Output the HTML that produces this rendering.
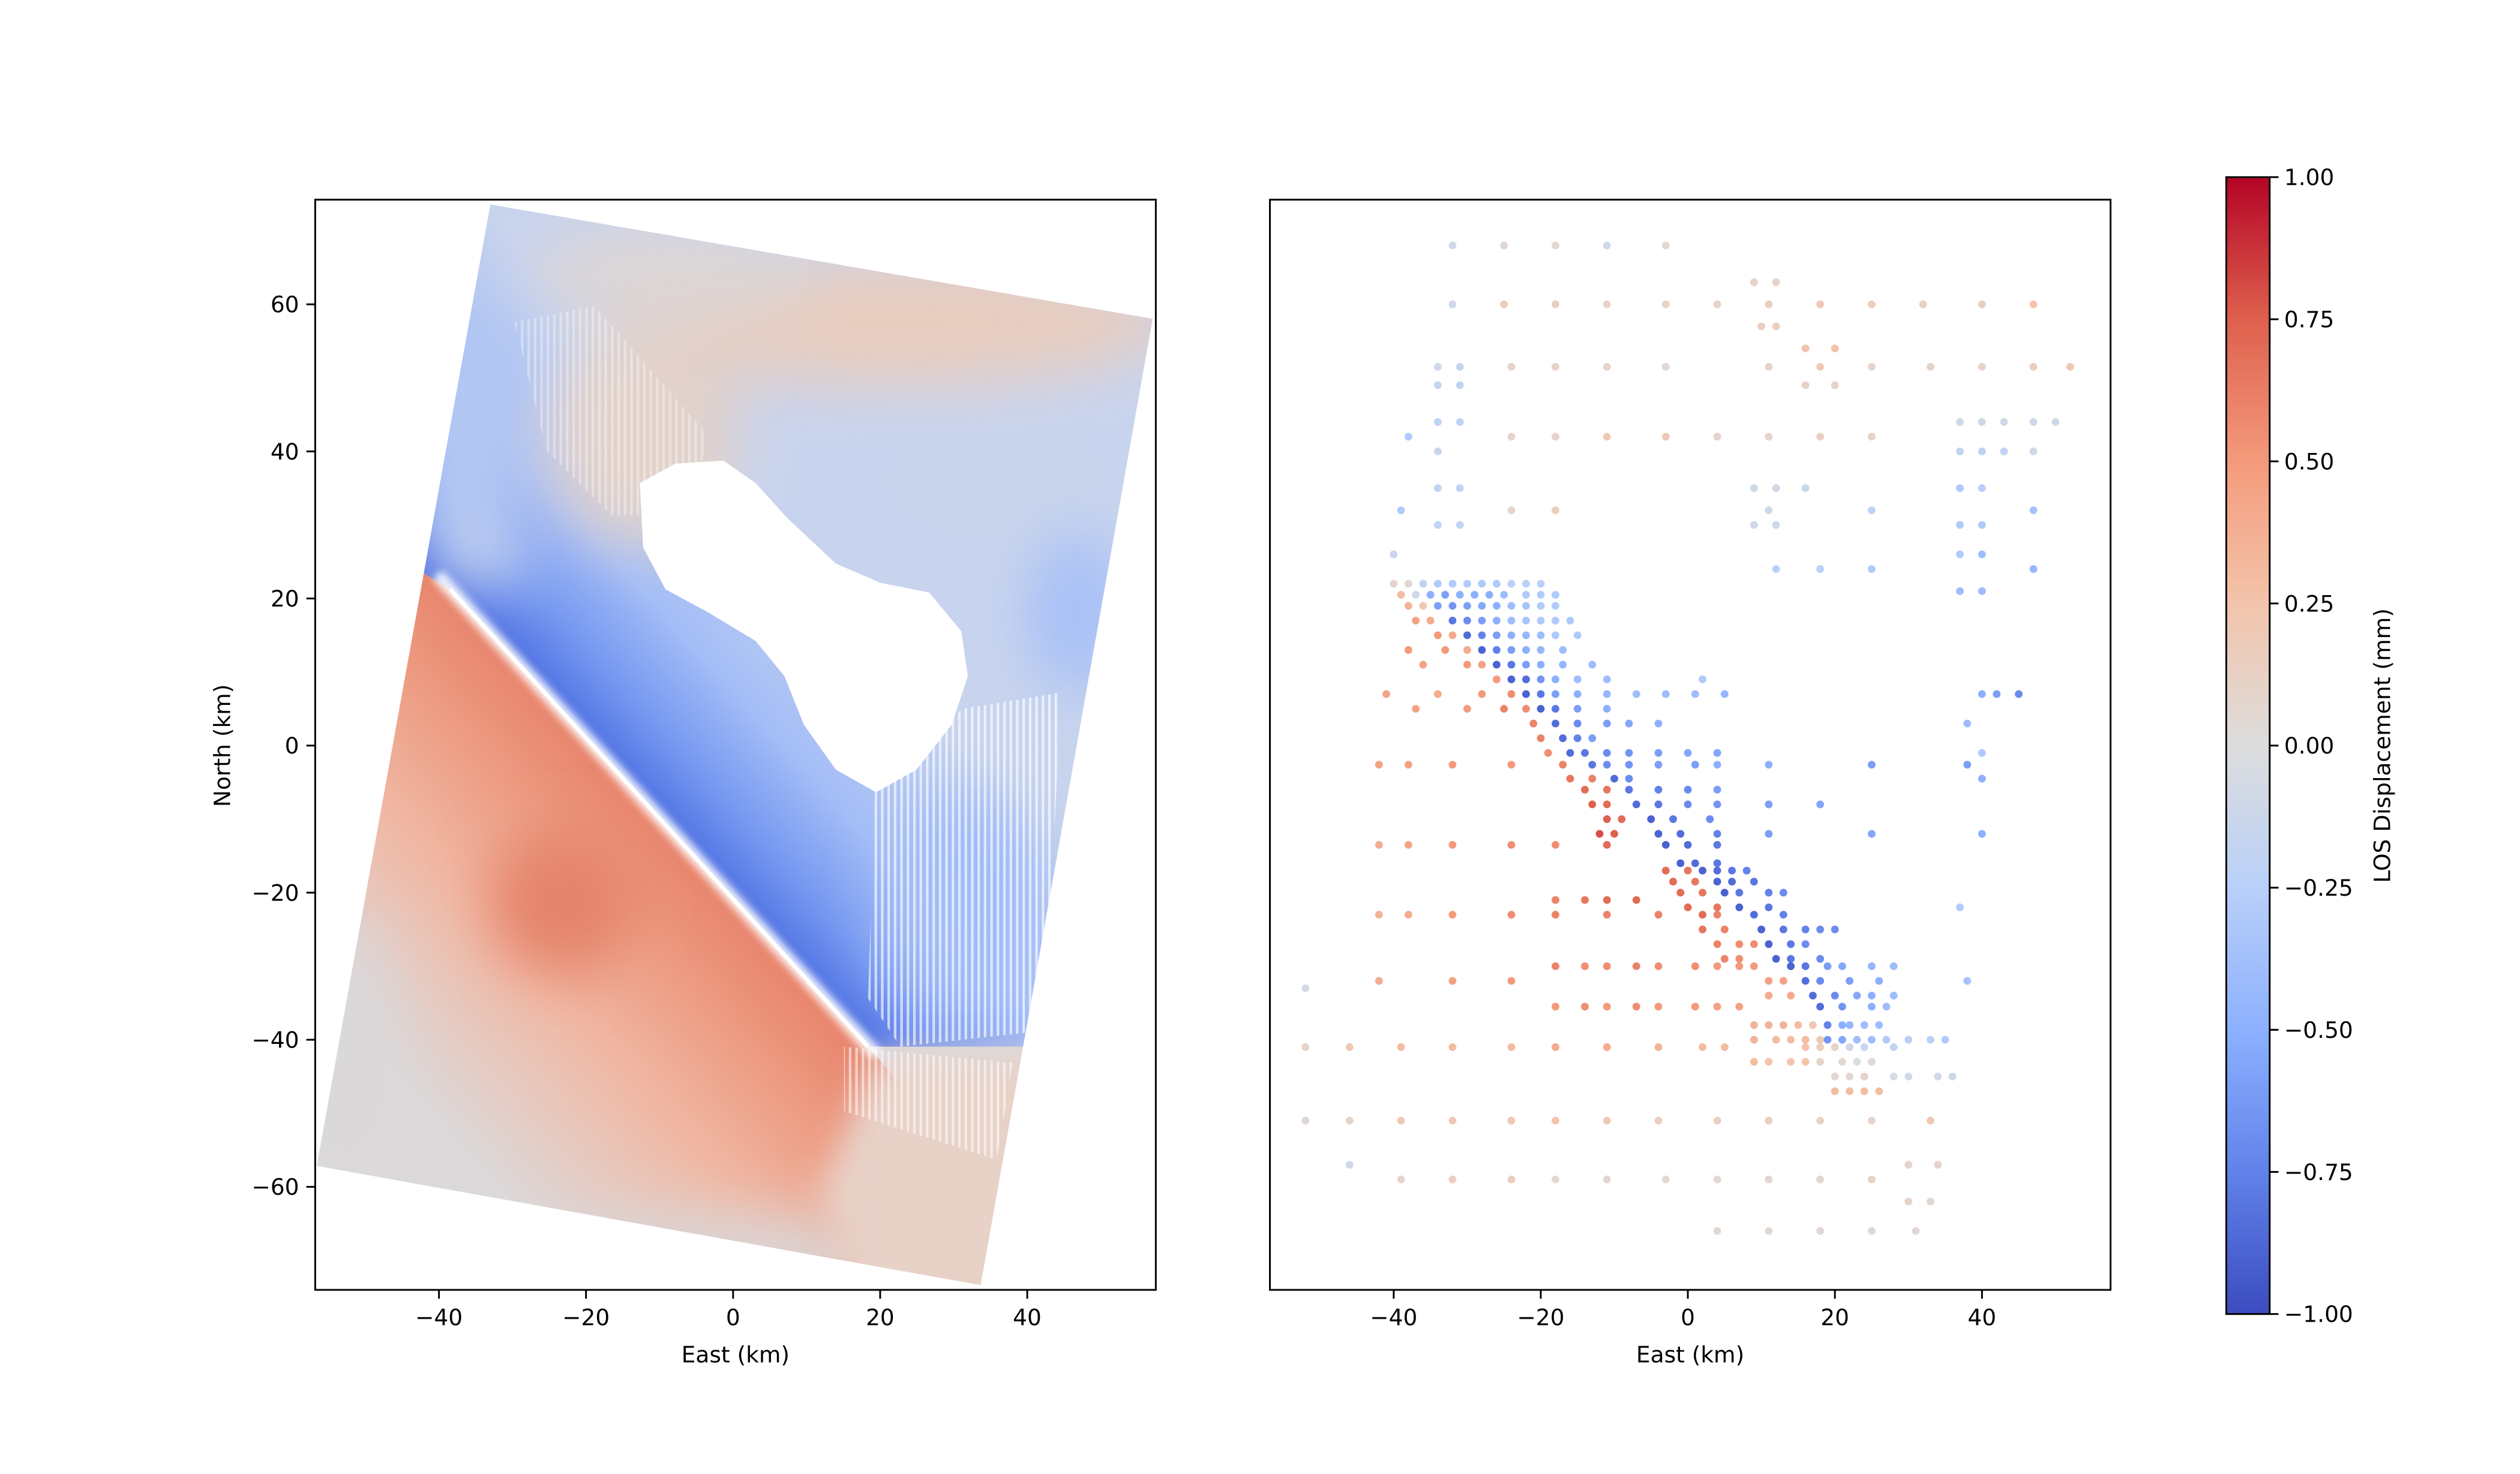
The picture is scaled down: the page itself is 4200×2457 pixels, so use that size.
<!DOCTYPE html>
<html><head><meta charset="utf-8">
<style>
html,body{margin:0;padding:0;background:#fff;}
svg{display:block;}
text{font-family:"DejaVu Sans","Liberation Sans",sans-serif;fill:#000;}
</style></head>
<body>
<svg id="fig" width="4200" height="2457" viewBox="0 0 1560 912.6" xmlns="http://www.w3.org/2000/svg">
<defs>
  <clipPath id="foot"><polygon points="305,127 717,198 610,798 197,724"/></clipPath>
  <clipPath id="sw"><polygon points="150,300 262,355 283,368 540,650 600,720 560,860 150,860"/></clipPath>
  <clipPath id="ne"><polygon points="262,355 283,368 540,650 760,650 760,100 150,100 150,300"/></clipPath>
  <linearGradient id="gRed" gradientUnits="userSpaceOnUse" x1="410" y1="508" x2="240" y2="662">
    <stop offset="0" stop-color="#e8836b"/><stop offset="0.25" stop-color="#ed9c83"/><stop offset="0.55" stop-color="#f0b9a5"/><stop offset="1" stop-color="#dcd9da"/>
  </linearGradient>
  <linearGradient id="gBlue" gradientUnits="userSpaceOnUse" x1="410" y1="508" x2="540" y2="390">
    <stop offset="0" stop-color="#4e70e2"/><stop offset="0.2" stop-color="#7496f0"/><stop offset="0.5" stop-color="#a3bdf7"/><stop offset="1" stop-color="#c8d4ee"/>
  </linearGradient>
  <linearGradient id="cmap" x1="0" y1="1" x2="0" y2="0">
    <stop offset="0" stop-color="rgb(59,76,192)"/><stop offset="0.125" stop-color="rgb(98,130,234)"/>
    <stop offset="0.25" stop-color="rgb(141,176,254)"/><stop offset="0.375" stop-color="rgb(185,208,249)"/>
    <stop offset="0.5" stop-color="rgb(221,221,221)"/><stop offset="0.625" stop-color="rgb(243,196,171)"/>
    <stop offset="0.75" stop-color="rgb(244,154,123)"/><stop offset="0.875" stop-color="rgb(222,96,77)"/>
    <stop offset="1" stop-color="rgb(180,4,38)"/>
  </linearGradient>
  <filter id="blur" x="-30%" y="-30%" width="160%" height="160%"><feGaussianBlur stdDeviation="18"/></filter>
  <filter id="blur2"><feGaussianBlur stdDeviation="2.5"/></filter>
  <filter id="blur3" x="-30%" y="-30%" width="160%" height="160%"><feGaussianBlur stdDeviation="10"/></filter>
  <pattern id="stripes" width="4" height="10" patternUnits="userSpaceOnUse"><rect x="0" y="0" width="1.6" height="10" fill="#fff"/></pattern>
</defs>
<g transform="matrix(0.995,0,0,0.997,0.1,0)">
<!-- Left panel image -->
<g clip-path="url(#foot)">
  <rect x="190" y="120" width="540" height="690" fill="#d8dae2"/>
  <g clip-path="url(#ne)">
    <rect x="150" y="100" width="620" height="760" fill="url(#gBlue)"/>
    <g filter="url(#blur)">
      <ellipse cx="560" cy="200" rx="170" ry="40" fill="#e8cdbf"/>
      <ellipse cx="420" cy="170" rx="90" ry="30" fill="#ddd6d6"/>
      <ellipse cx="400" cy="270" rx="60" ry="70" fill="#e2d2ca"/>
      <ellipse cx="290" cy="280" rx="35" ry="80" fill="#b4c8f3"/>
      <ellipse cx="300" cy="345" rx="30" ry="20" fill="#c4d2ef"/>
      <ellipse cx="620" cy="300" rx="80" ry="40" fill="#c8d4ec"/>
      <ellipse cx="670" cy="380" rx="30" ry="50" fill="#a6bff7"/>
      <ellipse cx="600" cy="560" rx="50" ry="70" fill="#a0bbf6"/>
    </g>
  </g>
  <g clip-path="url(#sw)">
    <rect x="150" y="300" width="620" height="560" fill="url(#gRed)"/>
    <g filter="url(#blur)">
      <ellipse cx="215" cy="650" rx="30" ry="80" fill="#dad8da"/>
      <ellipse cx="440" cy="780" rx="120" ry="25" fill="#d9d6d8"/>
      <ellipse cx="350" cy="560" rx="45" ry="45" fill="#e5836b"/>
    </g>
  </g>
  <polygon points="545,655 700,655 650,830 545,830 510,740" fill="#e8d2c8" filter="url(#blur3)"/>
  <line x1="272" y1="357" x2="545" y2="655" stroke="#fff" stroke-width="8" opacity="0.9" filter="url(#blur2)"/>
  <line x1="280" y1="366" x2="540" y2="650" stroke="#fff" stroke-width="2.5"/>
  <polygon fill="#fff" points="398,300 420,288 450,286 470,300 490,322 520,350 548,362 578,368 598,392 602,420 592,450 570,478 545,492 520,478 500,450 488,420 470,398 440,380 414,366 400,340"/>
  <polygon points="545,470 600,440 660,430 650,640 560,650 540,620" fill="url(#stripes)" opacity="0.65"/>
  <polygon points="525,650 630,660 620,720 525,690" fill="url(#stripes)" opacity="0.55"/>
  <polygon points="320,200 370,190 440,270 430,320 380,320 340,280" fill="url(#stripes)" opacity="0.35"/>
</g>
<rect x="196" y="124" width="523" height="677" fill="none" stroke="#000" stroke-width="1.1"/>
<g id="leftTicks"></g>
<text x="457.5" y="846" font-size="14" text-anchor="middle">East (km)</text>
<text x="143" y="463" font-size="14" text-anchor="middle" transform="rotate(-90 143 463)">North (km)</text>

<!-- Right panel -->
<g id="pts"></g>
<rect x="790" y="124" width="523" height="677" fill="none" stroke="#000" stroke-width="1.1"/>
<g id="rightTicks"></g>
<text x="1051.5" y="846" font-size="14" text-anchor="middle">East (km)</text>

<!-- Colorbar -->
<rect x="1385" y="110" width="27" height="706" fill="url(#cmap)" stroke="#000" stroke-width="1.1"/>
<g id="cbTicks"></g>
<text x="1487" y="463" font-size="14" text-anchor="middle" transform="rotate(-90 1487 463)">LOS Displacement (mm)</text>
</g>
</svg>
<script>
const xTicks = [-40, -20, 0, 20, 40];
const yTicks = [-60, -40, -20, 0, 20, 40, 60];
const cbTickVals = [-1.0, -0.75, -0.5, -0.25, 0.0, 0.25, 0.5, 0.75, 1.0];

// scatter data: east km, north km, LOS value
const ptX = [
-32,-25,-18,-11,-3,
-32,-25,-18,-11,-3,4,11,18,25,32,40,47,
9,12,10,12,
-34,-31,-24,-18,-11,-3,11,18,25,33,40,47,52,
16,20,-34,-31,16,20,
-34,-31,37,40,43,47,50,
-38,-24,-18,-11,-3,4,11,18,25,
-34,37,40,43,47,
-34,-31,9,12,16,37,40,
-39,-24,-18,11,25,47,
-34,-31,9,12,37,40,
-40,37,40,
12,18,25,47,
37,40,
-40,-38,-36,-34,-32,-30,-28,-26,-24,-22,-20,
-39,-37,-35,-33,-31,-29,-27,-25,-22,-20,-18,
-38,-36,-34,-32,-30,-28,-26,-24,-22,-20,-18,
-37,-35,-32,-30,-28,-26,-24,-22,-20,-18,-16,
-34,-32,-30,-28,-26,-24,-22,-20,-18,-15,
-38,-33,-30,-28,-26,-24,-22,-20,-17,
-36,-30,-28,-26,-24,-22,-20,-17,-13,
-26,-24,-22,-20,-18,-15,-11,2,
-41,-34,-28,-24,-22,-20,-18,-15,-11,-7,-3,1,5,40,42,45,
-37,-30,-25,-22,-20,-18,-15,-11,
-21,-18,-15,-11,-8,-4,38,
-20,-17,-15,-13,
-19,-16,-14,-11,-8,-4,0,4,40,
-42,-38,-32,-24,-17,-13,-11,-8,-4,1,4,11,25,38,
-16,-13,-10,-8,40,
-14,-11,-8,-4,0,4,
-13,-11,-7,-4,0,4,11,18,
-11,-9,-5,-2,3,
-12,-10,-4,-1,4,11,25,40,
-42,-38,-32,-24,-18,-11,-3,0,4,
-1,1,4,
-3,0,2,4,6,8,
-2,1,4,6,9,
-1,2,5,7,11,13,
-18,-14,-11,-7,
0,4,7,11,37,
-42,-38,-32,-24,-18,-11,-4,2,4,9,13,
2,5,10,13,16,18,20,
4,7,9,11,14,16,
5,7,12,14,18,
-18,-14,-11,-7,-4,1,4,7,9,14,16,19,21,25,28,
-42,-32,-24,11,13,16,18,22,26,38,
11,14,17,20,23,25,28,
-18,-14,-11,-7,-4,1,4,7,18,21,25,27,
9,11,13,15,17,19,21,22,24,26,
9,12,14,16,18,19,21,23,25,27,30,33,35,
-52,-46,-39,-32,-24,-18,-11,-4,2,5,16,18,20,22,24,28,
9,11,14,16,18,21,23,25,
20,22,24,28,30,34,36,
20,22,24,26,
-52,-46,-39,-32,-24,-18,-11,-4,4,11,18,25,33,
-46,30,34,
-39,-32,-24,-18,-11,-3,4,11,18,25,
30,33,
4,11,18,25,31,
-52
];
const ptY = [
68,68,68,68,68,
60,60,60,60,60,60,60,60,60,60,60,60,
63,63,57,57,
51.5,51.5,51.5,51.5,51.5,51.5,51.5,51.5,51.5,51.5,51.5,51.5,51.5,
54,54,49,49,49,49,
44,44,44,44,44,44,44,
42,42,42,42,42,42,42,42,42,
40,40,40,40,40,
35,35,35,35,35,35,35,
32,32,32,32,32,32,
30,30,30,30,30,30,
26,26,26,
24,24,24,24,
21,21,
22,22,22,22,22,22,22,22,22,22,22,
20.5,20.5,20.5,20.5,20.5,20.5,20.5,20.5,20.5,20.5,20.5,
19,19,19,19,19,19,19,19,19,19,19,
17,17,17,17,17,17,17,17,17,17,17,
15,15,15,15,15,15,15,15,15,15,
13,13,13,13,13,13,13,13,13,
11,11,11,11,11,11,11,11,11,
9,9,9,9,9,9,9,9,
7,7,7,7,7,7,7,7,7,7,7,7,7,7,7,7,
5,5,5,5,5,5,5,5,
3,3,3,3,3,3,3,
1,1,1,1,
-1,-1,-1,-1,-1,-1,-1,-1,-1,
-2.6,-2.6,-2.6,-2.6,-2.6,-2.6,-2.6,-2.6,-2.6,-2.6,-2.6,-2.6,-2.6,-2.6,
-4.5,-4.5,-4.5,-4.5,-4.5,
-6,-6,-6,-6,-6,-6,
-8,-8,-8,-8,-8,-8,-8,-8,
-10,-10,-10,-10,-10,
-12,-12,-12,-12,-12,-12,-12,-12,
-13.5,-13.5,-13.5,-13.5,-13.5,-13.5,-13.5,-13.5,-13.5,
-16,-16,-16,
-17,-17,-17,-17,-17,-17,
-18.5,-18.5,-18.5,-18.5,-18.5,
-20,-20,-20,-20,-20,-20,
-21,-21,-21,-21,
-22,-22,-22,-22,-22,
-23,-23,-23,-23,-23,-23,-23,-23,-23,-23,-23,
-25,-25,-25,-25,-25,-25,-25,
-27,-27,-27,-27,-27,-27,
-29,-29,-29,-29,-29,
-30,-30,-30,-30,-30,-30,-30,-30,-30,-30,-30,-30,-30,-30,-30,
-32,-32,-32,-32,-32,-32,-32,-32,-32,-32,
-34,-34,-34,-34,-34,-34,-34,
-35.5,-35.5,-35.5,-35.5,-35.5,-35.5,-35.5,-35.5,-35.5,-35.5,-35.5,-35.5,
-38,-38,-38,-38,-38,-38,-38,-38,-38,-38,
-40,-40,-40,-40,-40,-40,-40,-40,-40,-40,-40,-40,-40,
-41,-41,-41,-41,-41,-41,-41,-41,-41,-41,-41,-41,-41,-41,-41,-41,
-43,-43,-43,-43,-43,-43,-43,-43,
-45,-45,-45,-45,-45,-45,-45,
-47,-47,-47,-47,
-51,-51,-51,-51,-51,-51,-51,-51,-51,-51,-51,-51,-51,
-57,-57,-57,
-59,-59,-59,-59,-59,-59,-59,-59,-59,-59,
-62,-62,
-66,-66,-66,-66,-66,
-33
];
const ptV = [
-0.1,0.05,0.05,-0.1,0.05,
-0.1,0.15,0.15,0.1,0.1,0.1,0.15,0.2,0.15,0.15,0.15,0.25,
0.1,0.1,0.15,0.15,
-0.1,-0.15,0.1,0.1,0.1,0.05,0.1,0.2,0.1,0.1,0.1,0.15,0.2,
0.25,0.25,-0.15,-0.2,0.1,0.1,
-0.2,-0.2,-0.1,-0.1,-0.1,-0.1,-0.1,
-0.3,0.1,0.1,0.2,0.2,0.1,0.1,0.15,0.1,
-0.15,-0.2,-0.2,-0.2,-0.1,
-0.2,-0.2,-0.1,-0.1,-0.15,-0.3,-0.25,
-0.3,0.1,0.15,-0.1,-0.2,-0.35,
-0.2,-0.2,-0.1,-0.1,-0.3,-0.3,
-0.15,-0.3,-0.4,
-0.25,-0.25,-0.3,-0.45,
-0.4,-0.4,
0.1,0.05,-0.2,-0.3,-0.3,-0.3,-0.3,-0.3,-0.25,-0.25,-0.25,
0.3,-0.1,-0.5,-0.6,-0.5,-0.5,-0.5,-0.4,-0.3,-0.3,-0.3,
0.35,0.2,-0.6,-0.65,-0.6,-0.55,-0.5,-0.4,-0.35,-0.3,-0.3,
0.45,0.4,-0.8,-0.7,-0.6,-0.5,-0.4,-0.35,-0.3,-0.3,-0.3,
0.5,0.4,-0.85,-0.75,-0.6,-0.5,-0.45,-0.4,-0.3,-0.3,
0.5,0.5,0.4,-0.9,-0.75,-0.6,-0.5,-0.45,-0.4,
0.45,0.5,0.45,-0.9,-0.8,-0.6,-0.5,-0.45,-0.4,
0.5,-0.9,-0.85,-0.65,-0.5,-0.4,-0.4,-0.3,
0.45,0.4,0.5,0.55,-0.9,-0.8,-0.6,-0.5,-0.45,-0.4,-0.4,-0.4,-0.45,-0.5,-0.6,-0.7,
0.45,0.5,0.6,0.55,-0.9,-0.8,-0.6,-0.5,
0.6,-0.85,-0.7,-0.6,-0.55,-0.5,-0.4,
0.6,-0.85,-0.75,-0.6,
0.55,-0.85,-0.8,-0.7,-0.65,-0.6,-0.55,-0.55,-0.3,
0.45,0.45,0.5,0.5,0.6,-0.8,-0.7,-0.65,-0.6,-0.6,-0.5,-0.5,-0.6,-0.6,
0.65,0.6,-0.85,-0.7,-0.5,
0.7,0.65,-0.8,-0.75,-0.7,-0.6,
0.75,0.7,-0.85,-0.8,-0.7,-0.65,-0.6,-0.55,
0.75,0.7,-0.9,-0.8,-0.7,
0.8,0.75,-0.9,-0.85,-0.75,-0.6,-0.55,-0.5,
0.4,0.45,0.5,0.55,0.55,0.7,-0.9,-0.85,-0.8,
-0.9,-0.85,-0.8,
0.7,0.65,-0.9,-0.85,-0.8,-0.75,
0.7,0.65,-0.9,-0.85,-0.8,
0.7,0.65,-0.9,-0.8,-0.75,-0.7,
0.6,0.65,0.7,0.7,
0.7,0.65,-0.9,-0.8,-0.3,
0.35,0.4,0.5,0.55,0.6,0.6,0.6,0.7,0.6,-0.85,-0.75,
0.65,0.6,-0.9,-0.8,-0.75,-0.7,-0.7,
0.6,0.55,0.55,-0.9,-0.8,-0.7,
0.6,0.55,-0.9,-0.8,-0.7,
0.6,0.55,0.55,0.6,0.55,0.55,0.5,0.5,0.5,-0.9,-0.8,-0.6,-0.55,-0.45,-0.4,
0.4,0.45,0.5,0.45,0.45,-0.85,-0.7,-0.6,-0.5,-0.35,
0.4,0.4,-0.85,-0.7,-0.55,-0.5,-0.4,
0.5,0.55,0.5,0.55,0.5,0.5,0.45,0.45,-0.85,-0.65,-0.5,-0.4,
0.35,0.35,0.35,0.3,0.2,-0.75,-0.5,-0.45,-0.4,-0.4,
0.35,0.3,0.3,0.3,0.2,-0.65,-0.55,-0.4,-0.4,-0.3,-0.25,-0.25,-0.3,
0.1,0.2,0.3,0.3,0.3,0.4,0.4,0.35,0.3,0.3,0.25,0.15,0.1,-0.1,-0.15,-0.2,
0.3,0.25,0.25,0.25,0.1,0.05,0,0.05,
0.05,0.05,0.1,-0.05,-0.1,-0.1,-0.1,
0.3,0.3,0.3,0.3,
0.05,0.1,0.2,0.2,0.2,0.25,0.2,0.15,0.15,0.15,0.1,0.1,0.2,
-0.1,0.1,0.1,
0.1,0.15,0.15,0.05,0.05,0.05,0.05,0.05,0.05,0.1,
0.1,0.05,
0.05,0.05,0.05,0.05,0.05,
-0.05
];

const NS = 'http://www.w3.org/2000/svg';
const KM = 4.575, KMY = 4.567, Y0 = 463;
function xLeft(v){ return 456 + KM * v; }
function xRight(v){ return 1050 + KM * v; }
function yScale(v){ return Y0 - KMY * v; }
function cbY(v){ return 463 - 353 * v; }

const stops = [[0,59,76,192],[0.125,98,130,234],[0.25,141,176,254],[0.375,185,208,249],[0.5,221,221,221],[0.625,243,196,171],[0.75,244,154,123],[0.875,222,96,77],[1,180,4,38]];
function cmap(v){
  let t = Math.max(0, Math.min(1, (v + 1) / 2));
  for (let i = 1; i < stops.length; i++){
    if (t <= stops[i][0]){
      const a = stops[i-1], b = stops[i], f = (t - a[0]) / (b[0] - a[0]);
      return 'rgb(' + [1,2,3].map(k => Math.round(a[k] + f * (b[k] - a[k]))).join(',') + ')';
    }
  }
  return 'rgb(180,4,38)';
}
function mk(tag, attrs, parent){
  const e = document.createElementNS(NS, tag);
  for (const k in attrs) e.setAttribute(k, attrs[k]);
  parent.appendChild(e);
  return e;
}
function fmt(v){ return (v < 0 ? '\u2212' : '') + Math.abs(v); }
function fmt2(v){ return (v < 0 ? '\u2212' : '') + Math.abs(v).toFixed(2); }

const lt = document.getElementById('leftTicks');
xTicks.forEach(v => {
  const x = xLeft(v);
  const l = mk('line', {x1:x, y1:801, x2:x, y2:806.5, stroke:'#000', 'stroke-width':1.1}, lt);
  
  
  const t = mk('text', {x:x, y:823, 'font-size':14, 'text-anchor':'middle'}, lt);
  
  
  t.textContent = fmt(v);
});
yTicks.forEach(v => {
  const y = yScale(v);
  const l = mk('line', {x1:190.5, y1:y, x2:196, y2:y, stroke:'#000', 'stroke-width':1.1}, lt);
  
  
  const t = mk('text', {x:186, y:y + 5, 'font-size':14, 'text-anchor':'end'}, lt);
  
  
  t.textContent = fmt(v);
});
const rt = document.getElementById('rightTicks');
xTicks.forEach(v => {
  const x = xRight(v);
  const l = mk('line', {x1:x, y1:801, x2:x, y2:806.5, stroke:'#000', 'stroke-width':1.1}, rt);
  
  
  const t = mk('text', {x:x, y:823, 'font-size':14, 'text-anchor':'middle'}, rt);
  
  
  t.textContent = fmt(v);
});
const cb = document.getElementById('cbTicks');
cbTickVals.forEach(v => {
  const y = cbY(v);
  const l = mk('line', {x1:1412, y1:y, x2:1417.5, y2:y, stroke:'#000', 'stroke-width':1.1}, cb);
  
  
  const t = mk('text', {x:1421, y:y + 5, 'font-size':14, 'text-anchor':'start'}, cb);
  
  
  t.textContent = fmt2(v);
});
const pg = document.getElementById('pts');
for (let i = 0; i < ptX.length; i++){
  const c = mk('circle', {cx:xRight(ptX[i]), cy:yScale(ptY[i]), r:2.4, fill:cmap(ptV[i])}, pg);
  
  
}
</script>
</body></html>
